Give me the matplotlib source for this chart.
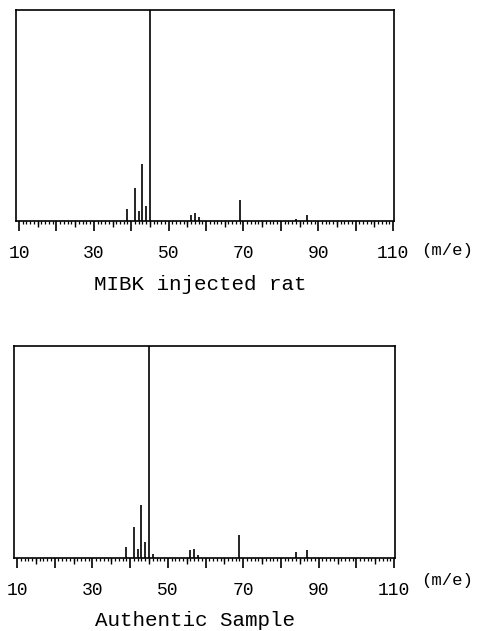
import matplotlib
matplotlib.use("Agg")
import matplotlib.pyplot as plt
from matplotlib.ticker import MultipleLocator

# peak positions (m/z) and relative intensities (%) for the two spectra
rat_mz = [39, 41, 42, 43, 44, 45, 56, 57, 58, 69, 84, 87]
rat_int = [5.9, 15.7, 4.6, 26.9, 7.1, 100, 3.0, 4.0, 1.9, 10.1, 0.8, 2.7]

std_mz = [39, 41, 42, 43, 44, 45, 46, 56, 57, 58, 69, 84, 87]
std_int = [5.0, 14.8, 4.3, 25.0, 7.4, 100, 1.9, 3.9, 4.3, 1.6, 11.0, 2.7, 3.6]

tick_vals = list(range(10, 111, 10))
tick_text = ["10", "", "30", "", "50", "", "70", "", "90", "", "110"]
mid_ticks = list(range(15, 110, 10))

titles = ["MIBK injected rat", "Authentic Sample"]
unit_label = "(m/e)"

FONT = "Liberation Mono"

fig = plt.figure(figsize=(4.85, 6.31), dpi=100)
W, H = 485.0, 631.0


def spectrum(rect_px, mz, inten, title, title_x, title_y, unit_y):
    left, top, right, bottom = rect_px
    ax = fig.add_axes([left / W, 1 - bottom / H, (right - left) / W, (bottom - top) / H])
    ax.vlines(mz, 0, inten, colors="black", linewidth=1.2)
    ax.set_xlim(9.2, 110.25)
    ax.set_ylim(0, 100)
    ax.set_yticks([])
    for s in ax.spines.values():
        s.set_linewidth(1.2)
    ax.set_xticks(tick_vals)
    ax.set_xticklabels(tick_text, fontfamily=FONT, fontsize=13)
    ax.xaxis.set_minor_locator(MultipleLocator(1))
    ax.tick_params(axis="x", which="major", direction="out", length=7, width=1.2, pad=10)
    ax.tick_params(axis="x", which="minor", direction="out", length=2.5, width=0.9)
    # medium ticks at the half-decades
    sec = ax.secondary_xaxis("bottom")
    sec.set_xticks(mid_ticks)
    sec.set_xticklabels([])
    sec.tick_params(direction="out", length=4.5, width=1.0)
    sec.spines["bottom"].set_visible(False)
    fig.text(421 / W, 1 - unit_y / H, unit_label, fontfamily=FONT, fontsize=12.5,
             ha="left", va="center")
    fig.text(title_x / W, 1 - title_y / H, title, fontfamily=FONT, fontsize=15,
             ha="center", va="center")
    return ax


spectrum((16, 10, 394, 221), rat_mz, rat_int, titles[0], 200, 285, 251)
spectrum((14, 346, 395, 558), std_mz, std_int, titles[1], 195, 620, 581)

fig.savefig("out.png", dpi=100)
